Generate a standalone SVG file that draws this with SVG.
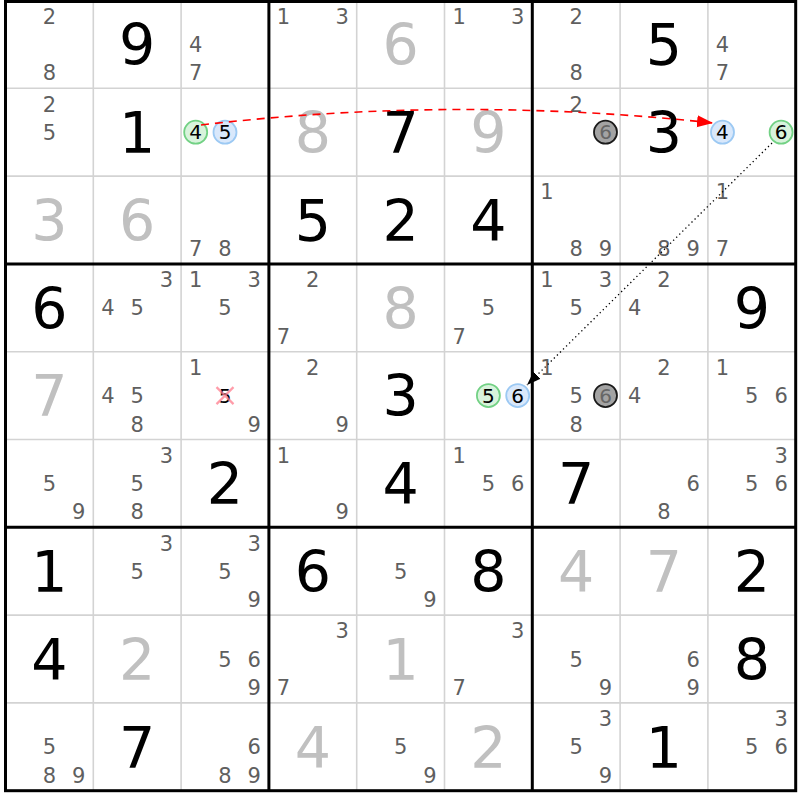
<svg xmlns="http://www.w3.org/2000/svg" width="800" height="800" viewBox="0 0 800 800">
<style>
text{font-family:"DejaVu Sans","Verdana",sans-serif;text-anchor:middle}
.c{font-size:21px;fill:#5f5f5f}
.g{font-size:57px;fill:#000}
.s{font-size:57px;fill:#c0c0c0}
.k{font-size:20px;fill:#000}
.kg{font-size:20px;fill:#666}
.cg{fill:#d8f3dc;stroke:#72d184;stroke-width:1.8}
.cb{fill:#d9e8fb;stroke:#9cc9f3;stroke-width:1.8}
.cx{fill:#a3a3a3;stroke:#1a1a1a;stroke-width:1.8}
.thin{stroke:#d3d3d3;stroke-width:1.6}
.thick{stroke:#000;stroke-width:3}
</style>
<defs>
<marker id="ar" markerUnits="userSpaceOnUse" markerWidth="18" markerHeight="14" refX="16" refY="6" orient="auto"><path d="M0,0 L16,6 L0,12 z" fill="#ff0000"/></marker>
<marker id="ak" markerUnits="userSpaceOnUse" markerWidth="16" markerHeight="12" refX="14" refY="5" orient="auto"><path d="M0,0 L14,5 L0,10 z" fill="#000"/></marker>
</defs>
<rect x="0" y="0" width="800" height="800" fill="#fff"/>
<g id="grid">
<path class="thin" d="M93.3,0.5V790.7M181.1,0.5V790.7M356.7,0.5V790.7M444.5,0.5V790.7M620.1,0.5V790.7M707.9,0.5V790.7M5.5,88.3H795.7M5.5,176.1H795.7M5.5,351.7H795.7M5.5,439.5H795.7M5.5,615.1H795.7M5.5,702.9H795.7"/>
<path class="thick" d="M268.9,0.5V790.7M532.3,0.5V790.7M5.5,263.9H795.7M5.5,527.3H795.7"/>
<rect class="thick" x="5.5" y="1.5" width="790.2" height="789.2" fill="none"/>
</g>
<g id="r1c1" transform="translate(5.5,0.5)"><text class="c" x="43.9" y="23.3">2</text><text class="c" x="43.9" y="79.9">8</text></g>
<g id="r1c2" transform="translate(93.3,0.5)"><text class="g" x="43.9" y="64.7">9</text></g>
<g id="r1c3" transform="translate(181.1,0.5)"><text class="c" x="14.6" y="51.6">4</text><text class="c" x="14.6" y="79.9">7</text></g>
<g id="r1c4" transform="translate(268.9,0.5)"><text class="c" x="14.6" y="23.3">1</text><text class="c" x="73.2" y="23.3">3</text></g>
<g id="r1c5" transform="translate(356.7,0.5)"><text class="s" x="43.9" y="64.7">6</text></g>
<g id="r1c6" transform="translate(444.5,0.5)"><text class="c" x="14.6" y="23.3">1</text><text class="c" x="73.2" y="23.3">3</text></g>
<g id="r1c7" transform="translate(532.3,0.5)"><text class="c" x="43.9" y="23.3">2</text><text class="c" x="43.9" y="79.9">8</text></g>
<g id="r1c8" transform="translate(620.1,0.5)"><text class="g" x="43.9" y="64.7">5</text></g>
<g id="r1c9" transform="translate(707.9,0.5)"><text class="c" x="14.6" y="51.6">4</text><text class="c" x="14.6" y="79.9">7</text></g>

<g id="r2c1" transform="translate(5.5,88.3)"><text class="c" x="43.9" y="23.3">2</text><text class="c" x="43.9" y="51.6">5</text></g>
<g id="r2c2" transform="translate(93.3,88.3)"><text class="g" x="43.9" y="64.7">1</text></g>
<g id="r2c3" transform="translate(181.1,88.3)"><circle class="cg" cx="14.6" cy="43.9" r="11.5"/><text class="k" x="14.6" y="51.2">4</text><circle class="cb" cx="43.9" cy="43.9" r="11.5"/><text class="k" x="43.9" y="51.2">5</text></g>
<g id="r2c4" transform="translate(268.9,88.3)"><text class="s" x="43.9" y="64.7">8</text></g>
<g id="r2c5" transform="translate(356.7,88.3)"><text class="g" x="43.9" y="64.7">7</text></g>
<g id="r2c6" transform="translate(444.5,88.3)"><text class="s" x="43.9" y="64.7">9</text></g>
<g id="r2c7" transform="translate(532.3,88.3)"><text class="c" x="43.9" y="23.3">2</text><circle class="cx" cx="73.2" cy="43.9" r="11.5"/><text class="kg" x="73.2" y="51.2">6</text></g>
<g id="r2c8" transform="translate(620.1,88.3)"><text class="g" x="43.9" y="64.7">3</text></g>
<g id="r2c9" transform="translate(707.9,88.3)"><circle class="cb" cx="14.6" cy="43.9" r="11.5"/><text class="k" x="14.6" y="51.2">4</text><circle class="cg" cx="73.2" cy="43.9" r="11.5"/><text class="k" x="73.2" y="51.2">6</text></g>

<g id="r3c1" transform="translate(5.5,176.1)"><text class="s" x="43.9" y="64.7">3</text></g>
<g id="r3c2" transform="translate(93.3,176.1)"><text class="s" x="43.9" y="64.7">6</text></g>
<g id="r3c3" transform="translate(181.1,176.1)"><text class="c" x="14.6" y="79.9">7</text><text class="c" x="43.9" y="79.9">8</text></g>
<g id="r3c4" transform="translate(268.9,176.1)"><text class="g" x="43.9" y="64.7">5</text></g>
<g id="r3c5" transform="translate(356.7,176.1)"><text class="g" x="43.9" y="64.7">2</text></g>
<g id="r3c6" transform="translate(444.5,176.1)"><text class="g" x="43.9" y="64.7">4</text></g>
<g id="r3c7" transform="translate(532.3,176.1)"><text class="c" x="14.6" y="23.3">1</text><text class="c" x="43.9" y="79.9">8</text><text class="c" x="73.2" y="79.9">9</text></g>
<g id="r3c8" transform="translate(620.1,176.1)"><text class="c" x="43.9" y="79.9">8</text><text class="c" x="73.2" y="79.9">9</text></g>
<g id="r3c9" transform="translate(707.9,176.1)"><text class="c" x="14.6" y="23.3">1</text><text class="c" x="14.6" y="79.9">7</text></g>

<g id="r4c1" transform="translate(5.5,263.9)"><text class="g" x="43.9" y="64.7">6</text></g>
<g id="r4c2" transform="translate(93.3,263.9)"><text class="c" x="73.2" y="23.3">3</text><text class="c" x="14.6" y="51.6">4</text><text class="c" x="43.9" y="51.6">5</text></g>
<g id="r4c3" transform="translate(181.1,263.9)"><text class="c" x="14.6" y="23.3">1</text><text class="c" x="73.2" y="23.3">3</text><text class="c" x="43.9" y="51.6">5</text></g>
<g id="r4c4" transform="translate(268.9,263.9)"><text class="c" x="43.9" y="23.3">2</text><text class="c" x="14.6" y="79.9">7</text></g>
<g id="r4c5" transform="translate(356.7,263.9)"><text class="s" x="43.9" y="64.7">8</text></g>
<g id="r4c6" transform="translate(444.5,263.9)"><text class="c" x="43.9" y="51.6">5</text><text class="c" x="14.6" y="79.9">7</text></g>
<g id="r4c7" transform="translate(532.3,263.9)"><text class="c" x="14.6" y="23.3">1</text><text class="c" x="73.2" y="23.3">3</text><text class="c" x="43.9" y="51.6">5</text></g>
<g id="r4c8" transform="translate(620.1,263.9)"><text class="c" x="43.9" y="23.3">2</text><text class="c" x="14.6" y="51.6">4</text></g>
<g id="r4c9" transform="translate(707.9,263.9)"><text class="g" x="43.9" y="64.7">9</text></g>

<g id="r5c1" transform="translate(5.5,351.7)"><text class="s" x="43.9" y="64.7">7</text></g>
<g id="r5c2" transform="translate(93.3,351.7)"><text class="c" x="14.6" y="51.6">4</text><text class="c" x="43.9" y="51.6">5</text><text class="c" x="43.9" y="79.9">8</text></g>
<g id="r5c3" transform="translate(181.1,351.7)"><text class="c" x="14.6" y="23.3">1</text><text class="k" x="43.9" y="51.2">5</text><path d="M35.4,35.4L52.4,52.4M52.4,35.4L35.4,52.4" stroke="#ff7b8c" stroke-width="2.2" stroke-opacity="0.75"/><text class="c" x="73.2" y="79.9">9</text></g>
<g id="r5c4" transform="translate(268.9,351.7)"><text class="c" x="43.9" y="23.3">2</text><text class="c" x="73.2" y="79.9">9</text></g>
<g id="r5c5" transform="translate(356.7,351.7)"><text class="g" x="43.9" y="64.7">3</text></g>
<g id="r5c6" transform="translate(444.5,351.7)"><circle class="cg" cx="43.9" cy="43.9" r="11.5"/><text class="k" x="43.9" y="51.2">5</text><circle class="cb" cx="73.2" cy="43.9" r="11.5"/><text class="k" x="73.2" y="51.2">6</text></g>
<g id="r5c7" transform="translate(532.3,351.7)"><text class="c" x="14.6" y="23.3">1</text><text class="c" x="43.9" y="51.6">5</text><circle class="cx" cx="73.2" cy="43.9" r="11.5"/><text class="kg" x="73.2" y="51.2">6</text><text class="c" x="43.9" y="79.9">8</text></g>
<g id="r5c8" transform="translate(620.1,351.7)"><text class="c" x="43.9" y="23.3">2</text><text class="c" x="14.6" y="51.6">4</text></g>
<g id="r5c9" transform="translate(707.9,351.7)"><text class="c" x="14.6" y="23.3">1</text><text class="c" x="43.9" y="51.6">5</text><text class="c" x="73.2" y="51.6">6</text></g>

<g id="r6c1" transform="translate(5.5,439.5)"><text class="c" x="43.9" y="51.6">5</text><text class="c" x="73.2" y="79.9">9</text></g>
<g id="r6c2" transform="translate(93.3,439.5)"><text class="c" x="73.2" y="23.3">3</text><text class="c" x="43.9" y="51.6">5</text><text class="c" x="43.9" y="79.9">8</text></g>
<g id="r6c3" transform="translate(181.1,439.5)"><text class="g" x="43.9" y="64.7">2</text></g>
<g id="r6c4" transform="translate(268.9,439.5)"><text class="c" x="14.6" y="23.3">1</text><text class="c" x="73.2" y="79.9">9</text></g>
<g id="r6c5" transform="translate(356.7,439.5)"><text class="g" x="43.9" y="64.7">4</text></g>
<g id="r6c6" transform="translate(444.5,439.5)"><text class="c" x="14.6" y="23.3">1</text><text class="c" x="43.9" y="51.6">5</text><text class="c" x="73.2" y="51.6">6</text></g>
<g id="r6c7" transform="translate(532.3,439.5)"><text class="g" x="43.9" y="64.7">7</text></g>
<g id="r6c8" transform="translate(620.1,439.5)"><text class="c" x="73.2" y="51.6">6</text><text class="c" x="43.9" y="79.9">8</text></g>
<g id="r6c9" transform="translate(707.9,439.5)"><text class="c" x="73.2" y="23.3">3</text><text class="c" x="43.9" y="51.6">5</text><text class="c" x="73.2" y="51.6">6</text></g>

<g id="r7c1" transform="translate(5.5,527.3)"><text class="g" x="43.9" y="64.7">1</text></g>
<g id="r7c2" transform="translate(93.3,527.3)"><text class="c" x="73.2" y="23.3">3</text><text class="c" x="43.9" y="51.6">5</text></g>
<g id="r7c3" transform="translate(181.1,527.3)"><text class="c" x="73.2" y="23.3">3</text><text class="c" x="43.9" y="51.6">5</text><text class="c" x="73.2" y="79.9">9</text></g>
<g id="r7c4" transform="translate(268.9,527.3)"><text class="g" x="43.9" y="64.7">6</text></g>
<g id="r7c5" transform="translate(356.7,527.3)"><text class="c" x="43.9" y="51.6">5</text><text class="c" x="73.2" y="79.9">9</text></g>
<g id="r7c6" transform="translate(444.5,527.3)"><text class="g" x="43.9" y="64.7">8</text></g>
<g id="r7c7" transform="translate(532.3,527.3)"><text class="s" x="43.9" y="64.7">4</text></g>
<g id="r7c8" transform="translate(620.1,527.3)"><text class="s" x="43.9" y="64.7">7</text></g>
<g id="r7c9" transform="translate(707.9,527.3)"><text class="g" x="43.9" y="64.7">2</text></g>

<g id="r8c1" transform="translate(5.5,615.1)"><text class="g" x="43.9" y="64.7">4</text></g>
<g id="r8c2" transform="translate(93.3,615.1)"><text class="s" x="43.9" y="64.7">2</text></g>
<g id="r8c3" transform="translate(181.1,615.1)"><text class="c" x="43.9" y="51.6">5</text><text class="c" x="73.2" y="51.6">6</text><text class="c" x="73.2" y="79.9">9</text></g>
<g id="r8c4" transform="translate(268.9,615.1)"><text class="c" x="73.2" y="23.3">3</text><text class="c" x="14.6" y="79.9">7</text></g>
<g id="r8c5" transform="translate(356.7,615.1)"><text class="s" x="43.9" y="64.7">1</text></g>
<g id="r8c6" transform="translate(444.5,615.1)"><text class="c" x="73.2" y="23.3">3</text><text class="c" x="14.6" y="79.9">7</text></g>
<g id="r8c7" transform="translate(532.3,615.1)"><text class="c" x="43.9" y="51.6">5</text><text class="c" x="73.2" y="79.9">9</text></g>
<g id="r8c8" transform="translate(620.1,615.1)"><text class="c" x="73.2" y="51.6">6</text><text class="c" x="73.2" y="79.9">9</text></g>
<g id="r8c9" transform="translate(707.9,615.1)"><text class="g" x="43.9" y="64.7">8</text></g>

<g id="r9c1" transform="translate(5.5,702.9)"><text class="c" x="43.9" y="51.6">5</text><text class="c" x="43.9" y="79.9">8</text><text class="c" x="73.2" y="79.9">9</text></g>
<g id="r9c2" transform="translate(93.3,702.9)"><text class="g" x="43.9" y="64.7">7</text></g>
<g id="r9c3" transform="translate(181.1,702.9)"><text class="c" x="73.2" y="51.6">6</text><text class="c" x="43.9" y="79.9">8</text><text class="c" x="73.2" y="79.9">9</text></g>
<g id="r9c4" transform="translate(268.9,702.9)"><text class="s" x="43.9" y="64.7">4</text></g>
<g id="r9c5" transform="translate(356.7,702.9)"><text class="c" x="43.9" y="51.6">5</text><text class="c" x="73.2" y="79.9">9</text></g>
<g id="r9c6" transform="translate(444.5,702.9)"><text class="s" x="43.9" y="64.7">2</text></g>
<g id="r9c7" transform="translate(532.3,702.9)"><text class="c" x="73.2" y="23.3">3</text><text class="c" x="43.9" y="51.6">5</text><text class="c" x="73.2" y="79.9">9</text></g>
<g id="r9c8" transform="translate(620.1,702.9)"><text class="g" x="43.9" y="64.7">1</text></g>
<g id="r9c9" transform="translate(707.9,702.9)"><text class="c" x="73.2" y="23.3">3</text><text class="c" x="43.9" y="51.6">5</text><text class="c" x="73.2" y="51.6">6</text></g>

<g id="connectors" fill="none">
<path d="M201,125 Q455,95 713,123" stroke="#ff0000" stroke-width="1.6" stroke-dasharray="8,6" marker-end="url(#ar)"/>
<path d="M772,143 L527,385" stroke="#000" stroke-width="1.3" stroke-dasharray="1.3,3" marker-end="url(#ak)"/>
</g>
</svg>
